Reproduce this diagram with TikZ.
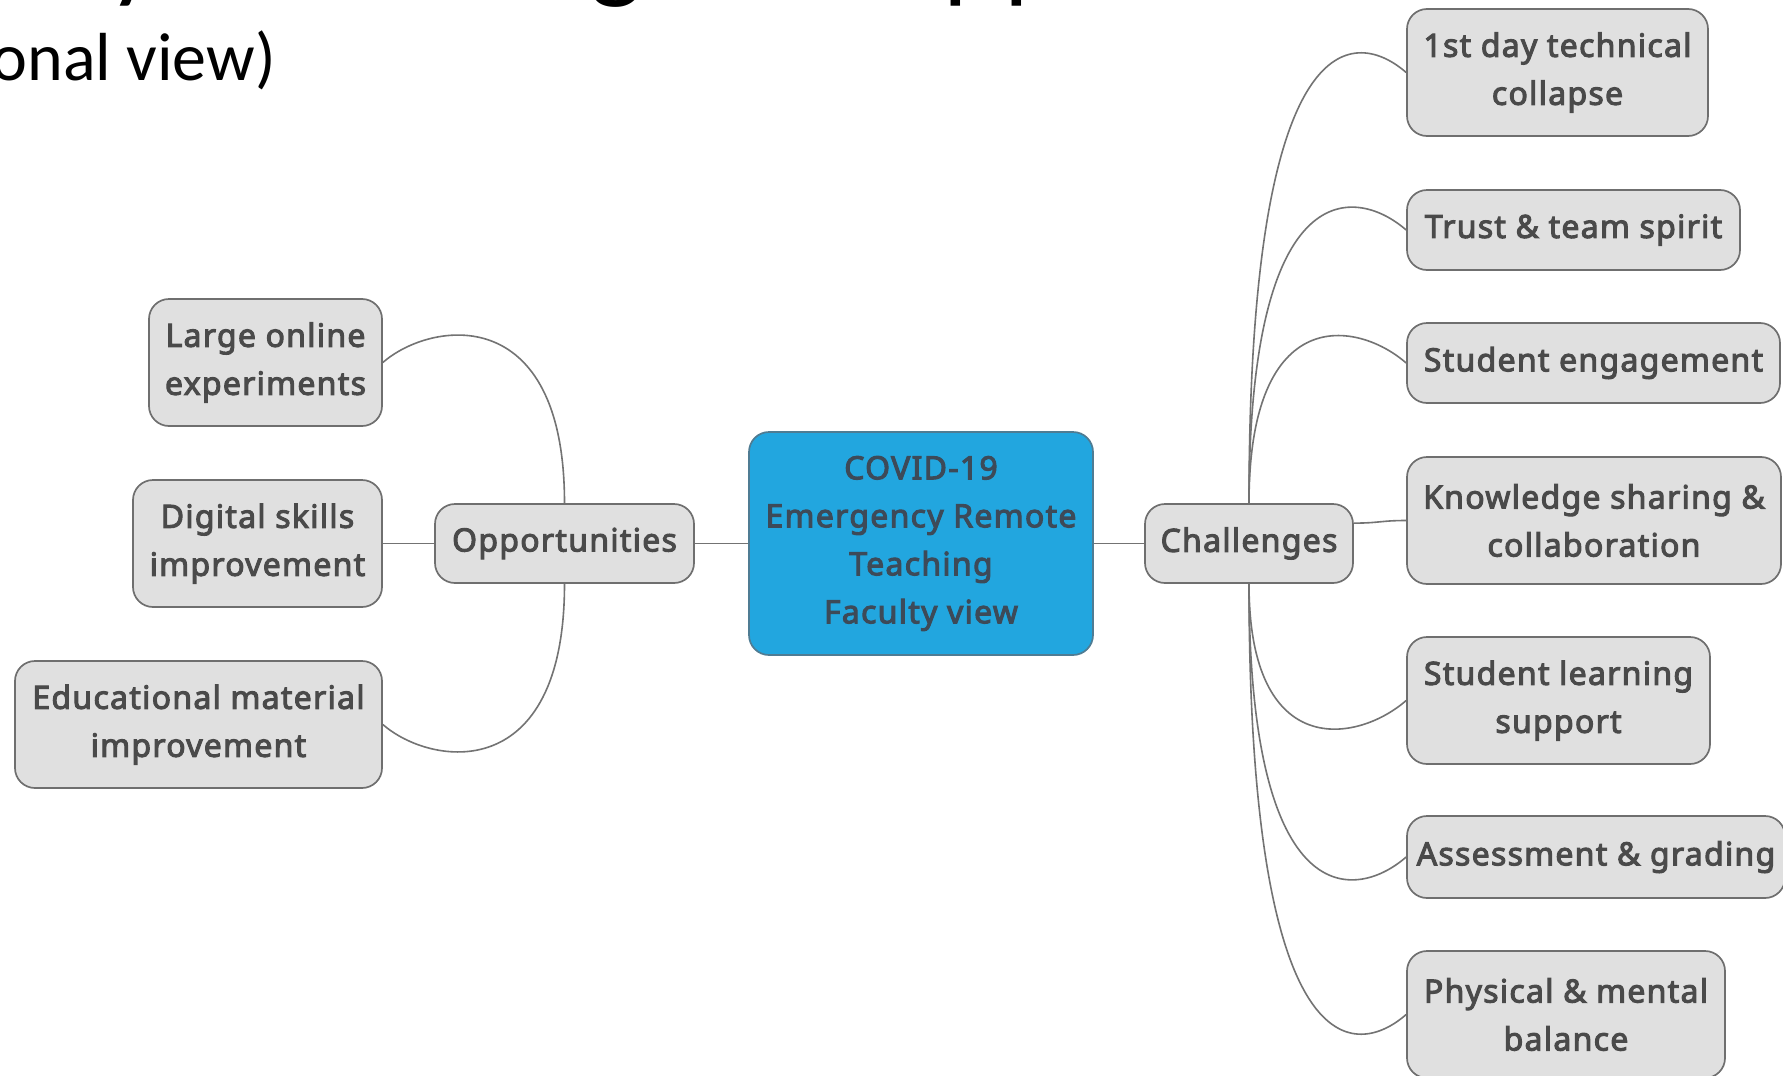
\documentclass[tikz,border=0pt]{standalone}
\usepackage{fontspec}
\setmainfont{Noto Sans}
\newfontfamily\nodefont{Noto Sans}[FakeBold=3.2, LetterSpace=4]
\newfontfamily\titlefont{Carlito}
\usetikzlibrary{calc}
\definecolor{boxfill}{HTML}{E0E0E0}
\definecolor{boxdraw}{HTML}{6F6F6F}
\definecolor{txtc}{HTML}{4A4A4A}
\definecolor{ctrfill}{HTML}{22A6DF}
\definecolor{ctrdraw}{HTML}{4F7C93}
\definecolor{ctrtxt}{HTML}{3D4A58}
\definecolor{linec}{HTML}{737373}
\begin{document}
\begin{tikzpicture}[x=1pt,y=-1pt,
  topic/.style={draw=boxdraw, fill=boxfill, line width=1.7pt, rounded corners=20pt,
    inner sep=0pt, align=center, text=txtc, font=\nodefont\fontsize{32}{48}\selectfont},
  root/.style={topic, draw=ctrdraw, fill=ctrfill, text=ctrtxt},
  conn/.style={draw=linec, line width=1.6pt},
  glyph/.style={anchor=base west, inner sep=0pt, font=\titlefont\fontsize{110}{110}\selectfont},
  subt/.style={anchor=base east, inner sep=0pt, font=\titlefont\fontsize{68}{68}\selectfont}]
\useasboundingbox[fill=white] (0,0) rectangle (1783,1076);

% cut-off title fragments
\node[glyph] (ty) at (108,-12) {y};
\node[glyph] (tg) at (590,-12) {g};
\node[glyph] (tp1) at (943,-12) {p};
\node[glyph] (tp2) at (1004,-12) {p};
\node[subt] (sub) at (276,80) {onal view)};

% nodes
\node[root, minimum width=344pt, minimum height=223pt] (ctr) at (921,543.5)
  {COVID-19\\Emergency Remote\\Teaching\\Faculty view};
\node[topic, minimum width=259pt, minimum height=79pt] (opp) at (564.5,543.5) {Opportunities};
\node[topic, minimum width=208pt, minimum height=79pt] (ch) at (1249,543.5) {Challenges};

\node[topic, minimum width=233pt, minimum height=127pt] (large) at (265.5,362.5) {Large online\\experiments};
\node[topic, minimum width=249pt, minimum height=127pt] (digital) at (257.5,543.5) {Digital skills\\improvement};
\node[topic, minimum width=367pt, minimum height=127pt] (edu) at (198.5,724.5) {Educational material\\improvement};

\node[topic, minimum width=301pt, minimum height=127pt] (r1) at (1557.5,72.5) {1st day technical\\collapse};
\node[topic, minimum width=333pt, minimum height=80pt] (r2) at (1573.5,230) {Trust \& team spirit};
\node[topic, minimum width=373pt, minimum height=80pt] (r3) at (1593.5,363) {Student engagement};
\node[topic, minimum width=374pt, minimum height=127pt] (r4) at (1594,520.5) {Knowledge sharing \&\\collaboration};
\node[topic, minimum width=303pt, minimum height=127pt] (r5) at (1558.5,700.5) {Student learning\\support};
\node[topic, minimum width=378pt, minimum height=82pt] (r6) at (1596,857) {Assessment \& grading};
\node[topic, minimum width=318pt, minimum height=127pt] (r7) at (1566,1014.5) {Physical \& mental\\balance};

% connectors
\draw[conn] (ctr.west) -- (opp.east);
\draw[conn] (ctr.east) -- (ch.west);
\draw[conn] (opp.west) -- (digital.east);
\draw[conn] (opp.north) .. controls ($(opp.north |- large.east)+(0,-62)$) and ($(large.east)+(48,-42)$) .. (large.east);
\draw[conn] (opp.south) .. controls ($(opp.south |- edu.east)+(0,62)$) and ($(edu.east)+(48,42)$) .. (edu.east);

\foreach \n in {r1,r2,r3}{
  \draw[conn] (ch.north) .. controls ($(ch.north |- \n.west)+(0,-62)$) and ($(\n.west)+(-48,-42)$) .. (\n.west);
}
\foreach \n in {r5,r6,r7}{
  \draw[conn] (ch.south) .. controls ($(ch.south |- \n.west)+(0,62)$) and ($(\n.west)+(-48,42)$) .. (\n.west);
}
\draw[conn] (ch.11) .. controls +(25,0) and +(-25,0) .. (r4.west);
\end{tikzpicture}
\end{document}
